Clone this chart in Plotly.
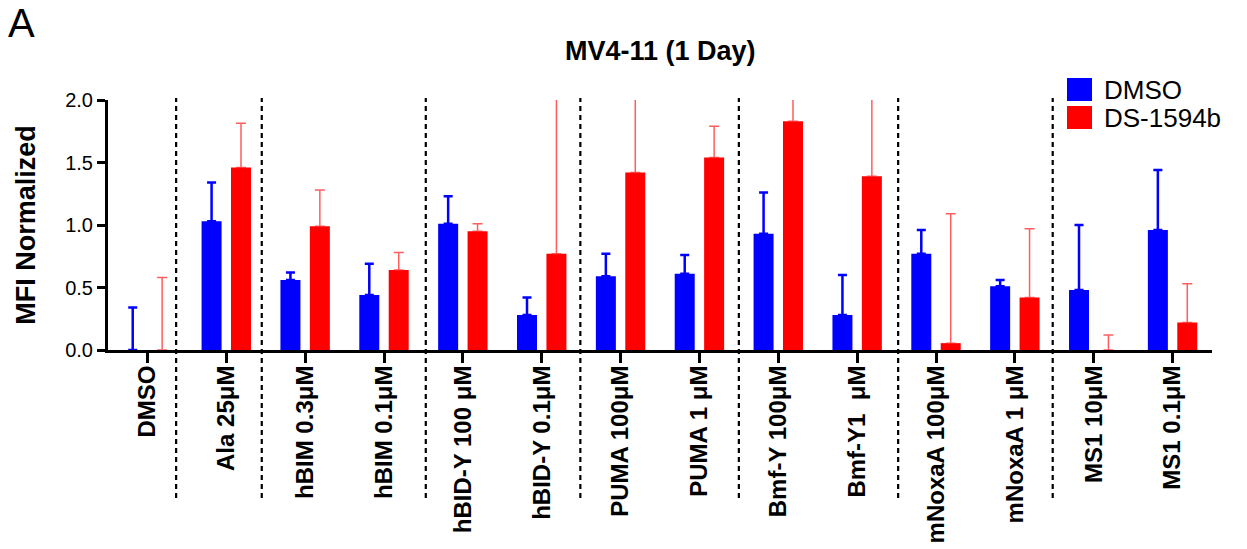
import plotly.graph_objects as go

# ---------------- data ----------------
categories = ["DMSO", "Ala 25μM", "hBIM 0.3μM", "hBIM 0.1μM", "hBID-Y 100 μM",
              "hBID-Y 0.1μM", "PUMA 100μM", "PUMA 1 μM", "Bmf-Y 100μM",
              "Bmf-Y1  μM", "mNoxaA 100μM", "mNoxaA 1 μM", "MS1 10μM", "MS1 0.1μM"]

dmso_values = [0.0, 1.03, 0.56, 0.44, 1.01, 0.28, 0.59, 0.61, 0.93, 0.28, 0.77, 0.51, 0.48, 0.96]
dmso_err_top = [0.34, 1.34, 0.62, 0.69, 1.23, 0.42, 0.77, 0.76, 1.26, 0.60, 0.96, 0.56, 1.00, 1.44]

ds_values = [0.0, 1.46, 0.99, 0.64, 0.95, 0.77, 1.42, 1.54, 1.83, 1.39, 0.055, 0.42, 0.0, 0.22]
ds_err_top = [0.58, 1.815, 1.28, 0.78, 1.01, 2.3, 2.3, 1.79, 2.3, 2.3, 1.09, 0.97, 0.12, 0.53]

separators = [0.364, 1.45, 3.53, 5.49, 7.50, 9.52, 11.48]

series_names = ["DMSO", "DS-1594b"]
y_ticks = [0.0, 0.5, 1.0, 1.5, 2.0]

# ---------------- layout constants ----------------
W, H = 1247, 549
ML, MR, MT, MB = 108, 35, 100, 199
PW, PH = W - ML - MR, H - MT - MB
FONT = "Liberation Sans, Arial, Helvetica, sans-serif"
BLUE, RED = "#0000ff", "#ff0000"


def px_x(px):
    return (px - ML) / PW


def px_y(py):
    return (H - MB - py) / PH


dmso_err = [t - v for t, v in zip(dmso_err_top, dmso_values)]
ds_err = [t - v for t, v in zip(ds_err_top, ds_values)]

fig = go.Figure()
fig.add_trace(go.Bar(
    x=categories, y=dmso_values, name=series_names[0], marker_color=BLUE,
    marker_line_width=0,
    error_y=dict(type="data", array=dmso_err, arrayminus=[0] * len(dmso_err),
                 symmetric=False, color=BLUE, thickness=2.5, width=4.5),
))
fig.add_trace(go.Bar(
    x=categories, y=ds_values, name=series_names[1], marker_color=RED,
    marker_line_width=0,
    error_y=dict(type="data", array=ds_err, arrayminus=[0] * len(ds_err),
                 symmetric=False, color="rgba(255,40,40,0.75)", thickness=1.5, width=5),
))

shapes = []
for s in separators:
    shapes.append(dict(type="line", xref="x", yref="paper", x0=s, x1=s,
                       y0=px_y(498), y1=px_y(98),
                       line=dict(color="black", width=2.2, dash="5px,4px")))

# custom legend squares
shapes.append(dict(type="rect", xref="paper", yref="paper",
                   x0=px_x(1067), x1=px_x(1092), y0=px_y(101), y1=px_y(78),
                   fillcolor=BLUE, line_width=0))
shapes.append(dict(type="rect", xref="paper", yref="paper",
                   x0=px_x(1067), x1=px_x(1092), y0=px_y(129), y1=px_y(106),
                   fillcolor=RED, line_width=0))

annotations = [
    dict(text="<b>MV4-11 (1 Day)</b>", xref="paper", yref="paper", x=0.5, y=px_y(51),
         xanchor="center", yanchor="middle", showarrow=False,
         font=dict(family=FONT, size=27, color="black")),
    dict(text="A", xref="paper", yref="paper", x=px_x(6), y=px_y(23),
         xanchor="left", yanchor="middle", showarrow=False,
         font=dict(family=FONT, size=40, color="black")),
    dict(text=series_names[0], xref="paper", yref="paper", x=px_x(1102), y=px_y(90),
         xanchor="left", yanchor="middle", showarrow=False,
         font=dict(family=FONT, size=26, color="black")),
    dict(text=series_names[1], xref="paper", yref="paper", x=px_x(1102), y=px_y(118),
         xanchor="left", yanchor="middle", showarrow=False,
         font=dict(family=FONT, size=26, color="black")),
]

fig.update_layout(
    width=W, height=H,
    margin=dict(l=ML, r=MR, t=MT, b=MB, pad=0, autoexpand=False),
    paper_bgcolor="white", plot_bgcolor="white",
    barmode="group", bargap=0.254, bargroupgap=0.32,
    showlegend=False,
    shapes=shapes, annotations=annotations,
    font=dict(family=FONT, color="black"),
)

fig.update_xaxes(
    type="category", range=[-0.5, 13.5], automargin=False,
    showline=True, linecolor="black", linewidth=3,
    ticks="outside", ticklen=10, tickwidth=3, tickcolor="black",
    tickangle=-90, tickfont=dict(family=FONT, size=24, color="black"),
    tickprefix="<b>", ticksuffix="</b>", ticklabelstandoff=-7,
    showgrid=False, zeroline=False,
)
fig.update_yaxes(
    range=[0, 2], tickvals=y_ticks, tickformat=".1f", automargin=False,
    showline=True, linecolor="black", linewidth=3,
    ticks="outside", ticklen=8, tickwidth=3, tickcolor="black",
    tickfont=dict(family=FONT, size=20, color="black"),
    tickprefix="<b>", ticksuffix="</b>",
    showgrid=False, zeroline=False,
    title=dict(text="<b>MFI Normalized</b>", standoff=22,
               font=dict(family=FONT, size=27, color="black")),
)

fig.write_html("out.html")
